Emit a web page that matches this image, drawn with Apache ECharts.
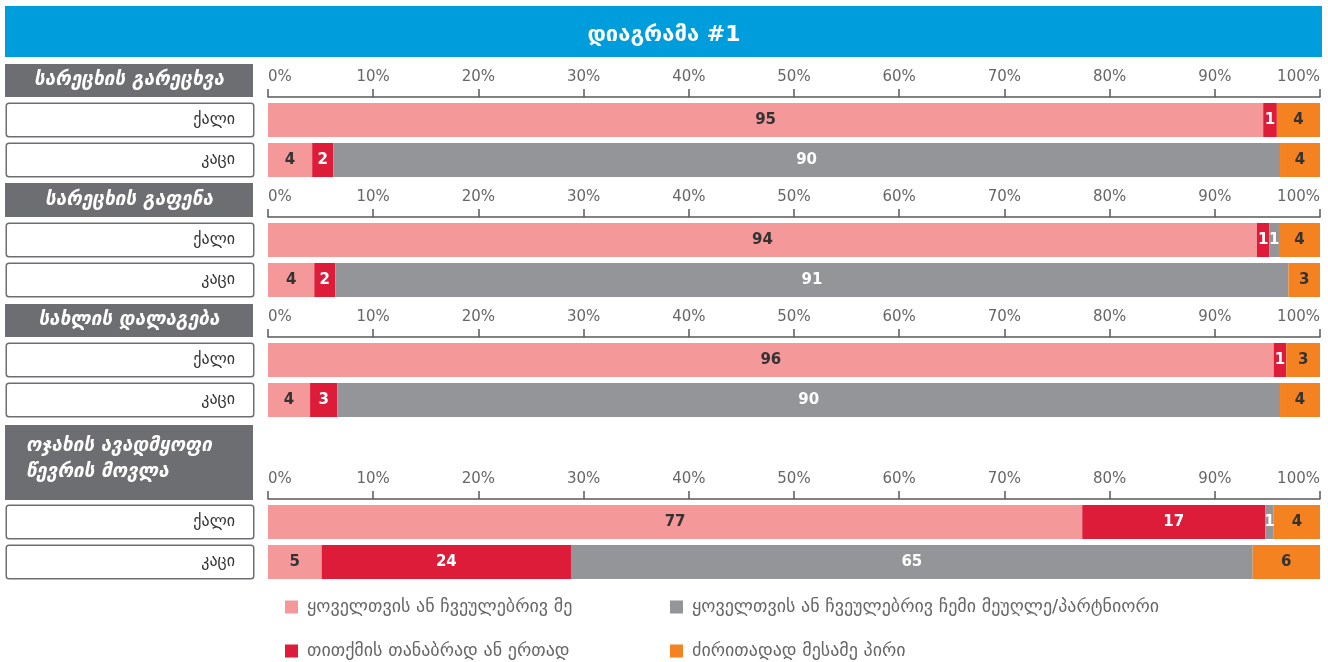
<!DOCTYPE html>
<html>
<head>
<meta charset="utf-8">
<script src="https://cdn.jsdelivr.net/npm/echarts@6/dist/echarts.min.js"></script>
<style>
html,body{margin:0;padding:0;background:#fff;}
#chart{width:1328px;height:662px;}
</style>
</head>
<body>
<div id="chart"></div>
<script>
// ---- data ----
const chartTitle = 'დიაგრამა #1';
const groups = ['სარეცხის გარეცხვა', 'სარეცხის გაფენა', 'სახლის დალაგება', 'ოჯახის ავადმყოფი\nწევრის მოვლა'];
const genders = ['ქალი', 'კაცი'];
const seriesNames = ['ყოველთვის ან ჩვეულებრივ მე', 'თითქმის თანაბრად ან ერთად', 'ყოველთვის ან ჩვეულებრივ ჩემი მეუღლე/პარტნიორი', 'ძირითადად მესამე პირი'];
// per group: [ქალი, კაცი]
const selfValues    = [[94.6, 4.2], [94.0, 4.4], [95.6, 4.0], [77.4, 5.1]];
const equalValues   = [[1.3, 2.0], [1.2, 2.0], [1.2, 2.6], [17.4, 23.7]];
const partnerValues = [[0, 90.0], [0.9, 90.6], [0, 89.6], [0.8, 64.8]];
const thirdValues   = [[4.1, 3.8], [3.9, 3.0], [3.2, 3.8], [4.4, 6.4]];
const tickValues = [0, 10, 20, 30, 40, 50, 60, 70, 80, 90, 100];

// ---- styling / layout ----
const colors = ['#f4989a', '#dd1c3a', '#939598', '#f58220'];
const labelColors = ['#333', '#fff', '#fff', '#333'];
const valueSets = [selfValues, equalValues, partnerValues, thirdValues];
const gridTops = [100, 220, 340, 502];
const headerTops = [64, 183, 304, 425];
const headerHeights = [33, 34, 33, 75];
const FONT = 'DejaVu Sans';

const chart = echarts.init(document.getElementById('chart'));

const grids = [], xAxes = [], yAxes = [], series = [], graphics = [];

graphics.push({type: 'rect', shape: {x: 5, y: 6, width: 1317, height: 51}, style: {fill: '#009ddc'}, z: 0});

groups.forEach((g, gi) => {
  grids.push({left: 268, width: 1052, top: gridTops[gi], height: 80});
  xAxes.push({
    type: 'value', gridIndex: gi, position: 'top', min: 0, max: 100, interval: 10,
    offset: 3,
    axisLine: {show: true, lineStyle: {color: '#58595b', width: 1.5}},
    axisTick: {show: true, length: 8, lineStyle: {color: '#58595b', width: 1.5}},
    splitLine: {show: false},
    axisLabel: {formatter: v => tickValues.includes(v) ? v + '%' : '', color: '#666', fontFamily: FONT, fontSize: 15, margin: 12,
      alignMinLabel: 'left', alignMaxLabel: 'right'}
  });
  yAxes.push({
    type: 'category', gridIndex: gi, data: genders, inverse: true,
    axisLine: {show: false}, axisTick: {show: false}, splitLine: {show: false},
    axisLabel: {
      margin: 15, color: '#333', fontFamily: FONT, fontSize: 16,
      width: 228, height: 32, lineHeight: 32, padding: [0, 18, 0, 0], align: 'right',
      backgroundColor: '#fff', borderColor: '#6d6e71', borderWidth: 1.5, borderRadius: 2
    }
  });
  valueSets.forEach((vs, si) => {
    series.push({
      type: 'bar', name: seriesNames[si], xAxisIndex: gi, yAxisIndex: gi,
      stack: 'g' + gi, barWidth: 34, data: vs[gi],
      itemStyle: {color: colors[si]},
      label: {
        show: true, position: 'inside', color: labelColors[si], fontFamily: FONT, fontWeight: 'bold', fontSize: 15,
        formatter: p => p.value > 0 ? String(Math.round(p.value)) : ''
      }
    });
  });
  graphics.push({type: 'rect', shape: {x: 5, y: headerTops[gi], width: 248, height: headerHeights[gi]}, style: {fill: '#6d6e71'}, z: 0});
  const multi = g.includes('\n');
  graphics.push({
    type: 'text', z: 1,
    x: multi ? 26 : 129, y: headerTops[gi] + headerHeights[gi] / 2 - (multi ? 3 : 0),
    style: {text: g, fill: '#fff', font: 'italic bold 19px "DejaVu Sans"', textAlign: multi ? 'left' : 'center', textVerticalAlign: 'middle', lineHeight: 26}
  });
});

const legendCommon = {
  orient: 'vertical', padding: 0, icon: 'rect', itemWidth: 13, itemHeight: 13, itemGap: 24, selectedMode: false,
  height: 64,
  textStyle: {color: '#666', fontFamily: FONT, fontSize: 18, lineHeight: 20, padding: [0, 0, 0, 4]}
};

chart.setOption({
  animation: false,
  title: {text: chartTitle, left: 'center', top: 19, textStyle: {color: '#fff', fontFamily: FONT, fontWeight: 'bold', fontSize: 22}},
  graphic: graphics,
  grid: grids,
  xAxis: xAxes,
  yAxis: yAxes,
  series: series,
  legend: [
    Object.assign({data: [seriesNames[0], seriesNames[1]], left: 285, top: 597}, legendCommon),
    Object.assign({data: [seriesNames[2], seriesNames[3]], left: 670, top: 597}, legendCommon)
  ]
});
</script>
</body>
</html>
